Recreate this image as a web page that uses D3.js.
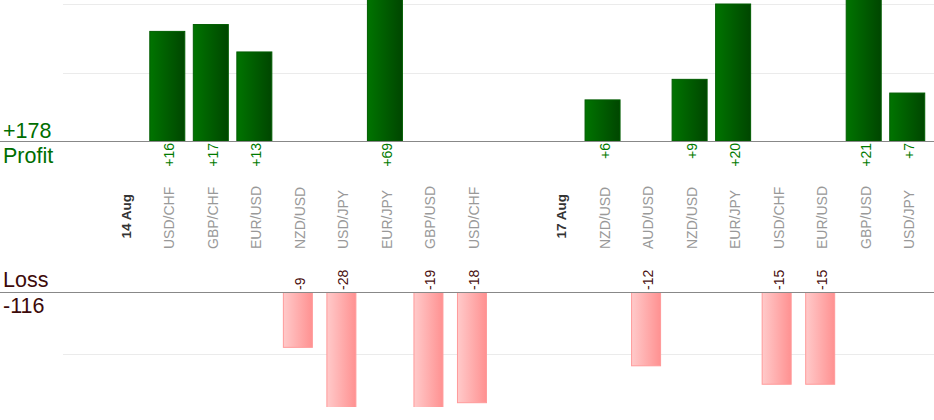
<!DOCTYPE html>
<html>
<head>
<meta charset="utf-8">
<script src="https://cdn.jsdelivr.net/npm/d3@7"></script>
<style>
  body { margin: 0; background: #fff; }
  text { font-family: "Liberation Sans", Arial, sans-serif; }
</style>
</head>
<body>
<div id="chart"></div>
<script>
// trades per day, one slot each, '' is an empty spacer slot
const categories = [
  '14 Aug', 'USD/CHF', 'GBP/CHF', 'EUR/USD', 'NZD/USD', 'USD/JPY', 'EUR/JPY', 'GBP/USD', 'USD/CHF',
  '',
  '17 Aug', 'NZD/USD', 'AUD/USD', 'NZD/USD', 'EUR/JPY', 'USD/CHF', 'EUR/USD', 'GBP/USD', 'USD/JPY'
];
const dateLabels = ['14 Aug', '17 Aug'];

const profits = [null, 16, 17, 13, null, null, 69, null, null, null, null, 6, null, 9, 20, null, null, 21, 7];
const losses = [null, null, null, null, -9, -28, null, -19, -18, null, null, null, -12, null, null, -15, -15, null, null];

const profitGrid = [10, 20];
const lossGrid = [10];

const width = 934;
const height = 420;

const profitBase = 141;
const lossBase = 292;
const lossBottom = 407;
const gridLeft = 63;

const fmt = (v) => (v > 0 ? '+' : '') + v;

const svg = d3.select('#chart').append('svg')
  .attr('width', width)
  .attr('height', height);

const defs = svg.append('defs');

const greenGrad = defs.append('linearGradient')
  .attr('id', 'green-grad')
  .attr('x1', 0).attr('x2', 1).attr('y1', 0).attr('y2', 0);
greenGrad.append('stop').attr('offset', '0%').attr('stop-color', '#007400');
greenGrad.append('stop').attr('offset', '100%').attr('stop-color', '#004600');

const pinkGrad = defs.append('linearGradient')
  .attr('id', 'pink-grad')
  .attr('x1', 0).attr('x2', 1).attr('y1', 0).attr('y2', 0);
pinkGrad.append('stop').attr('offset', '0%').attr('stop-color', '#ffcaca');
pinkGrad.append('stop').attr('offset', '100%').attr('stop-color', '#ff9191');

defs.append('clipPath').attr('id', 'loss-clip')
  .append('rect')
  .attr('x', 0).attr('y', lossBase)
  .attr('width', width).attr('height', lossBottom - lossBase);

const xScale = d3.scaleBand()
  .domain(d3.range(categories.length))
  .range([102, 929]);

const yProfit = d3.scaleLinear()
  .domain([0, 20])
  .range([profitBase, 4]);

// losses grow downwards, by their size
const yLoss = d3.scaleLinear()
  .domain([0, 10])
  .range([lossBase, 353.5]);

// light grid lines
svg.append('g')
  .attr('class', 'grid profit')
  .attr('transform', 'translate(' + gridLeft + ',0)')
  .call(d3.axisLeft(yProfit).tickValues(profitGrid).tickSize(-(width - gridLeft)).tickFormat(''));

svg.append('g')
  .attr('class', 'grid loss')
  .attr('transform', 'translate(' + gridLeft + ',0)')
  .call(d3.axisLeft(yLoss).tickValues(lossGrid).tickSize(-(width - gridLeft)).tickFormat(''));

svg.selectAll('.grid .domain').remove();
svg.selectAll('.grid line')
  .attr('stroke', '#ebebeb')
  .attr('shape-rendering', 'crispEdges');

const profitData = profits.map((v, i) => ({ i, v })).filter((d) => d.v !== null);
const lossData = losses.map((v, i) => ({ i, v })).filter((d) => d.v !== null);

const greenW = 35;
const pinkW = 29;
const center = (i) => xScale(i) + xScale.bandwidth() / 2;

// profit bars
svg.append('g')
  .selectAll('rect')
  .data(profitData)
  .enter().append('rect')
    .attr('x', (d) => center(d.i) - greenW / 2)
    .attr('y', (d) => yProfit(d.v))
    .attr('width', greenW)
    .attr('height', (d) => profitBase - yProfit(d.v))
    .style('fill', 'url(#green-grad)')
    .style('stroke', '#005c00')
    .style('stroke-width', '1px');

// loss bars
svg.append('g')
  .attr('clip-path', 'url(#loss-clip)')
  .selectAll('rect')
  .data(lossData)
  .enter().append('rect')
    .attr('x', (d) => center(d.i) - pinkW / 2)
    .attr('y', lossBase)
    .attr('width', pinkW)
    .attr('height', (d) => yLoss(-d.v) - lossBase)
    .style('fill', 'url(#pink-grad)')
    .style('stroke', '#ff9a9a')
    .style('stroke-width', '1px');

// base lines
[profitBase, lossBase].forEach((y) => {
  svg.append('line')
    .attr('x1', 0).attr('x2', width)
    .attr('y1', y + 0.5).attr('y2', y + 0.5)
    .attr('stroke', '#888')
    .attr('stroke-width', 1.2);
});

// value labels
svg.append('g')
  .selectAll('text')
  .data(profitData)
  .enter().append('text')
    .attr('transform', (d) => 'translate(' + center(d.i) + ',' + (profitBase + 2) + ') rotate(-90)')
    .attr('dy', '0.5em')
    .attr('text-anchor', 'end')
    .style('font-size', '14px')
    .style('fill', '#007a00')
    .text((d) => fmt(d.v));

svg.append('g')
  .selectAll('text')
  .data(lossData)
  .enter().append('text')
    .attr('transform', (d) => 'translate(' + center(d.i) + ',' + (lossBase - 2) + ') rotate(-90)')
    .attr('dy', '0.5em')
    .attr('text-anchor', 'start')
    .style('font-size', '14px')
    .style('fill', '#4a1010')
    .text((d) => fmt(d.v));

// pair and date labels
svg.append('g')
  .selectAll('text')
  .data(categories.map((c, i) => ({ c, i })).filter((d) => d.c !== ''))
  .enter().append('text')
    .attr('transform', (d) => {
      const isDate = dateLabels.includes(d.c);
      return 'translate(' + center(d.i) + ',' + (isDate ? 238.5 : 249) + ') rotate(-90)';
    })
    .attr('dy', '0.5em')
    .attr('text-anchor', 'start')
    .style('font-size', (d) => dateLabels.includes(d.c) ? '13.5px' : '14px')
    .style('font-weight', (d) => dateLabels.includes(d.c) ? 'bold' : 'normal')
    .style('fill', (d) => dateLabels.includes(d.c) ? '#333' : '#999')
    .text((d) => d.c);

// totals on the left
const totalProfit = d3.sum(profits);
const totalLoss = d3.sum(losses);

const side = [
  { text: fmt(totalProfit), y: 138, color: '#006e00' },
  { text: 'Profit', y: 162.5, color: '#006e00' },
  { text: 'Loss', y: 287, color: '#3d0a0a' },
  { text: fmt(totalLoss), y: 313, color: '#3d0a0a' }
];

svg.append('g')
  .selectAll('text')
  .data(side)
  .enter().append('text')
    .attr('x', 3)
    .attr('y', (d) => d.y)
    .style('font-size', '21.5px')
    .style('fill', (d) => d.color)
    .text((d) => d.text);
</script>
</body>
</html>
